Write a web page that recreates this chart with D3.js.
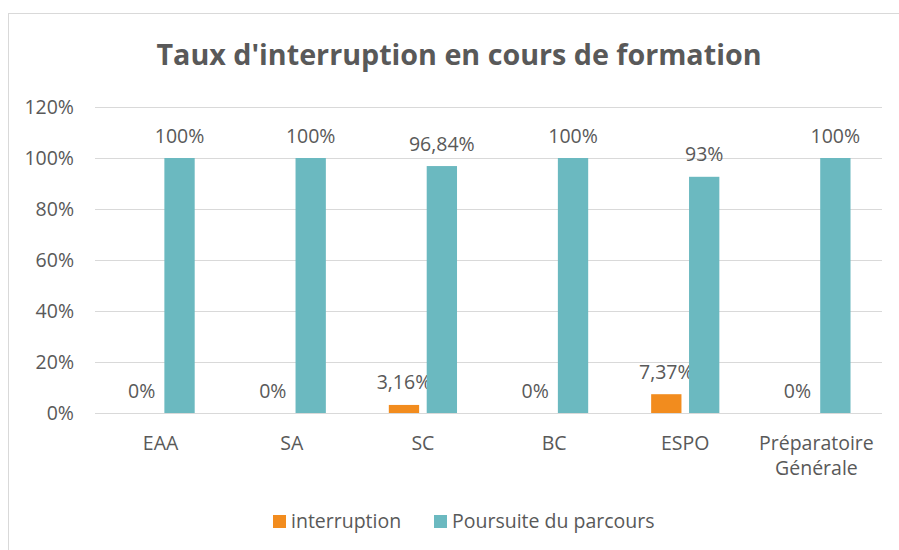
<!DOCTYPE html>
<html><head><meta charset="utf-8">
<script src="https://cdn.jsdelivr.net/npm/d3@7"></script>
<style>
body{margin:0;background:#fff;}
text{font-family:"Open Sans",sans-serif;fill:#595959;}
</style>
</head><body>
<svg id="c" width="899" height="550"></svg>
<script>
const title = "Taux d'interruption en cours de formation";
const categories = ["EAA","SA","SC","BC","ESPO","Préparatoire Générale"];
const series = ["interruption","Poursuite du parcours"];
const interruption = [0,0,3.16,0,7.37,0];
const poursuite = [100,100,96.84,100,92.63,100];
const labelsInterruption = ["0%","0%","3,16%","0%","7,37%","0%"];
const labelsPoursuite = ["100%","100%","96,84%","100%","93%","100%"];
const yTicks = [0,20,40,60,80,100,120];
const colors = ["#F28C1E","#6BB9C0"];

const FS = 19.5;
const svg = d3.select("#c");
const W = 899, H = 550;
const m = {left:95, right:W-882, top:107, bottom:H-413};

// frame
svg.append("rect").attr("x",8.5).attr("y",13.5).attr("width",1000).attr("height",700)
  .attr("fill","#fff").attr("stroke","#D9D9D9").attr("stroke-width",1);

const x0 = d3.scaleBand().domain(categories).range([m.left, W-m.right]).paddingInner(0).paddingOuter(0);
const bw = x0.bandwidth();
const x1 = d3.scaleBand().domain(series).range([bw*0.24, bw*0.76]).paddingInner(0.2);
const y = d3.scaleLinear().domain([0,120]).range([H-m.bottom, m.top]);

// gridlines
const g = svg.append("g");
g.selectAll("line.grid").data(yTicks).join("line")
  .attr("x1", m.left).attr("x2", W-m.right)
  .attr("y1", d=>Math.round(y(d))+0.5).attr("y2", d=>Math.round(y(d))+0.5)
  .attr("stroke","#D9D9D9").attr("stroke-width",1);

// y tick labels
g.selectAll("text.yt").data(yTicks).join("text")
  .attr("x", 74).attr("y", d=>y(d)).attr("dy","0.35em")
  .attr("text-anchor","end").attr("font-size",FS)
  .text(d=>d+"%");

const values = [interruption, poursuite];
const labels = [labelsInterruption, labelsPoursuite];

series.forEach((s,si)=>{
  const data = categories.map((c,i)=>({c, v:values[si][i], l:labels[si][i]}));
  svg.append("g").selectAll("rect").data(data).join("rect")
    .attr("x", d=>x0(d.c)+x1(s)).attr("width", x1.bandwidth())
    .attr("y", d=>y(d.v)).attr("height", d=>y(0)-y(d.v))
    .attr("fill", colors[si]);
  svg.append("g").selectAll("text").data(data).join("text")
    .attr("x", d=>x0(d.c)+x1(s)+x1.bandwidth()/2)
    .attr("y", d=>y(d.v)-15.5)
    .attr("text-anchor","middle").attr("font-size",FS)
    .text(d=>d.l);
});

// category labels
categories.forEach(c=>{
  const lines = c.split(" ");
  const t = svg.append("text").attr("text-anchor","middle").attr("font-size",FS);
  lines.forEach((ln,i)=>{
    t.append("tspan").attr("x", x0(c)+bw/2).attr("y", 450 + i*25).text(ln);
  });
});

// title
const tt = svg.append("text").attr("x", 459).attr("y", 65).attr("text-anchor","middle")
  .attr("font-size",28).attr("font-weight","bold").text(title);
const tw = tt.node().getComputedTextLength();
if (Math.abs(tw-605) > 3) tt.attr("textLength",605).attr("lengthAdjust","spacingAndGlyphs");

// legend
const legend = svg.append("g");
const legX = [273, 434];
series.forEach((s,i)=>{
  legend.append("rect").attr("x",legX[i]).attr("y",515).attr("width",13).attr("height",13).attr("fill",colors[i]);
  legend.append("text").attr("x",legX[i]+18).attr("y",521).attr("dy","0.35em").attr("font-size",FS).text(s);
});
</script>
</body></html>
